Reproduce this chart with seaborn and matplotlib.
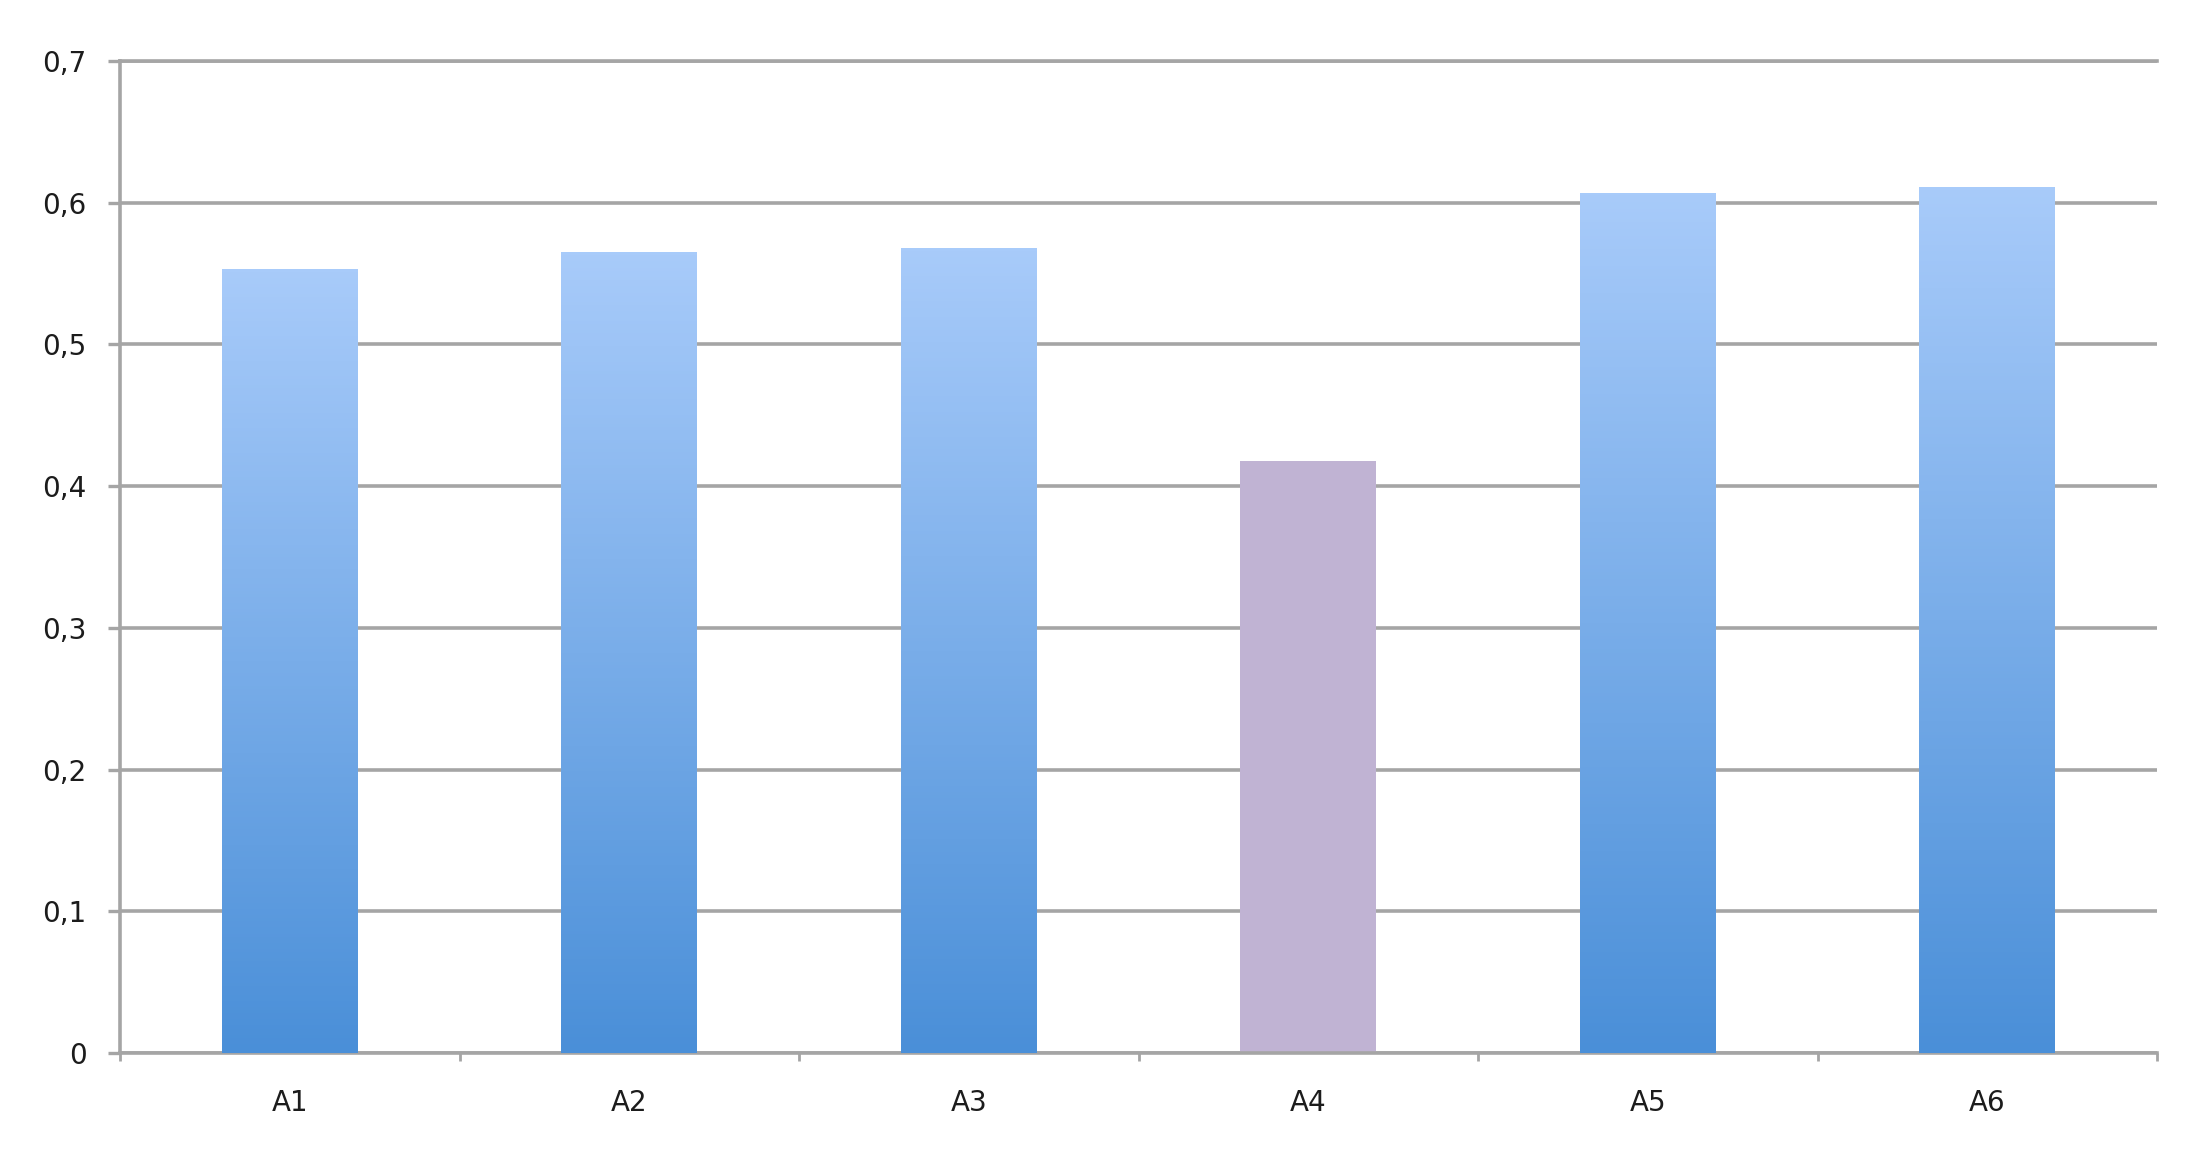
import matplotlib
matplotlib.use('Agg')
import matplotlib.pyplot as plt
import seaborn as sns
import numpy as np
import pandas as pd
from matplotlib.colors import LinearSegmentedColormap
from matplotlib.ticker import FixedLocator

# chart data
categories = ['A1', 'A2', 'A3', 'A4', 'A5', 'A6']
values = [0.553, 0.565, 0.568, 0.418, 0.607, 0.611]
highlight = 'A4'
y_ticks = [0, 0.1, 0.2, 0.3, 0.4, 0.5, 0.6, 0.7]
y_tick_labels = ['0', '0,1', '0,2', '0,3', '0,4', '0,5', '0,6', '0,7']

sns.set_theme(style='white')
plt.rcParams['font.family'] = ['DejaVu Sans']

grid_color = '#a5a5a5'
text_color = '#1c1c1c'

fig = plt.figure(figsize=(21.92, 11.56), dpi=100)
ax = fig.add_axes([120 / 2192, 1 - 1053 / 1156, (2157 - 120) / 2192, (1053 - 61) / 1156])

df = pd.DataFrame({'cat': categories, 'val': values})
palette = {c: ('#c0b3d3' if c == highlight else '#6fa6e6') for c in categories}
sns.barplot(data=df, x='cat', y='val', hue='cat', palette=palette, width=0.4,
            saturation=1, legend=False, ax=ax, zorder=2, linewidth=0)

# vertical gradient on the blue bars (dark at the bottom, light on top)
blue_grad = LinearSegmentedColormap.from_list('bars', ['#4a8fd8', '#a8cbfa'])
grad = np.linspace(0, 1, 256).reshape(-1, 1)
for cat, bar in zip(categories, ax.patches):
    if cat == highlight:
        continue
    x0, y0 = bar.get_x(), bar.get_y()
    w, h = bar.get_width(), bar.get_height()
    im = ax.imshow(grad, cmap=blue_grad, origin='lower', aspect='auto',
                   extent=[x0, x0 + w, y0, y0 + h], zorder=3)
    im.set_clip_path(bar)

ax.set_xlim(-0.5, len(categories) - 0.5)
ax.set_ylim(0, 0.7)
ax.set_xlabel('')
ax.set_ylabel('')

ax.set_axisbelow(True)
ax.yaxis.grid(True, color=grid_color, linewidth=2.6)
ax.xaxis.grid(False)

ax.set_yticks(y_ticks)
ax.set_yticklabels(y_tick_labels)
ax.xaxis.set_minor_locator(FixedLocator(np.arange(len(categories) + 1) - 0.5))

ax.tick_params(axis='y', which='major', direction='out', length=9, width=2.4,
               color=grid_color, left=True, pad=15, labelsize=20, labelcolor=text_color)
ax.tick_params(axis='x', which='major', length=0, pad=26, labelsize=20, labelcolor=text_color)
ax.tick_params(axis='x', which='minor', direction='out', length=6, width=2.0,
               color=grid_color, bottom=True)

for side in ['left', 'bottom', 'top']:
    ax.spines[side].set_visible(True)
    ax.spines[side].set_color(grid_color)
    ax.spines[side].set_linewidth(2.6)
ax.spines['right'].set_visible(False)

plt.savefig('out.png', dpi=100)
plt.close()
